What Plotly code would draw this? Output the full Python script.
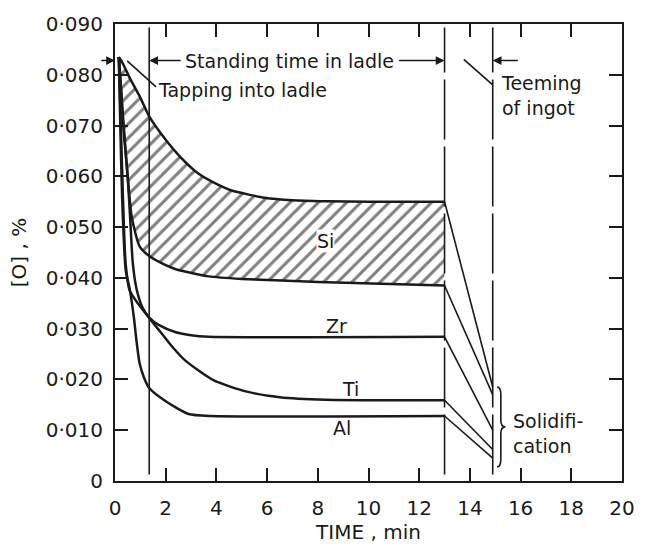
import plotly.graph_objects as go

# ---------------- data ----------------
# time axis ticks
x_ticks = [0, 2, 4, 6, 8, 10, 12, 14, 16, 18, 20]
y_ticks = [0, 0.01, 0.02, 0.03, 0.04, 0.05, 0.06, 0.07, 0.08, 0.09]
y_tick_text = ["0", "0·010", "0·020", "0·030", "0·040", "0·050", "0·060", "0·070", "0·080", "0·090"]

# event times (min): end of tapping, end of standing, end of teeming
t_tap_end = 1.35
t_stand_end = 13.0
t_teem_end = 14.9

# Si band (upper and lower bound) during tapping + standing in ladle
si_up_t = [0.15, 0.3, 0.58, 1.0, 1.35, 2.0, 2.6, 3.3, 4.0, 4.6, 5.9, 7.0, 8.3, 10.0, 13.0]
si_up_o = [0.0835, 0.0823, 0.0794, 0.0755, 0.0718, 0.0672, 0.0637, 0.0605, 0.0585, 0.0572, 0.0558, 0.0553, 0.0551, 0.0550, 0.0550]
si_lo_t = [0.15, 0.25, 0.35, 0.5, 0.66, 0.97, 1.35, 2.0, 2.4, 3.7, 5.0, 8.0, 13.0]
si_lo_o = [0.0835, 0.0765, 0.0685, 0.0600, 0.0520, 0.0462, 0.0443, 0.0425, 0.0417, 0.0403, 0.0398, 0.0392, 0.0385]

zr_t = [0.15, 0.3, 0.5, 0.6, 0.7, 0.85, 1.08, 1.35, 1.74, 2.4, 3.0, 3.7, 13.0]
zr_o = [0.0835, 0.0725, 0.0600, 0.0515, 0.0430, 0.0378, 0.0342, 0.0322, 0.0307, 0.0293, 0.0287, 0.0284, 0.0284]

ti_t = [0.15, 0.22, 0.3, 0.42, 0.58, 0.9, 1.35, 1.85, 2.3, 2.8, 3.9, 5.2, 6.5, 8.3, 13.0]
ti_o = [0.0835, 0.0720, 0.0580, 0.0428, 0.0375, 0.0350, 0.0321, 0.0290, 0.0262, 0.0236, 0.0198, 0.0176, 0.0165, 0.0160, 0.0159]

al_t = [0.15, 0.2, 0.28, 0.42, 0.58, 0.75, 0.85, 0.97, 1.15, 1.35, 2.0, 2.9, 3.8, 13.0]
al_o = [0.0835, 0.0720, 0.0560, 0.0416, 0.0378, 0.0320, 0.0275, 0.0232, 0.0203, 0.0183, 0.0157, 0.0132, 0.0128, 0.0128]

# oxygen at end of teeming (after solidification)
end_o = {"si_up": 0.0185, "si_lo": 0.0170, "zr": 0.0100, "ti": 0.0062, "al": 0.0045}

# label positions for the elements
labels = ["Si", "Zr", "Ti", "Al"]
label_t = [8.3, 8.75, 9.3, 8.95]
label_o = [0.0473, 0.0306, 0.0181, 0.0104]

FONT = "DejaVu Sans"
INK = "#1a1a1a"
FS = 19

fig = go.Figure()

# hatched Si band (only over the ladle period)
fig.add_trace(go.Scatter(x=si_lo_t, y=si_lo_o, mode="lines",
                         line=dict(width=0, shape="spline", smoothing=0.6),
                         showlegend=False, hoverinfo="skip"))
fig.add_trace(go.Scatter(x=si_up_t, y=si_up_o, mode="lines",
                         line=dict(width=0, shape="spline", smoothing=0.6),
                         fill="tonexty", fillcolor="white",
                         fillpattern=dict(shape="/", fgcolor="#000000", bgcolor="white",
                                          size=10, solidity=0.3),
                         showlegend=False, hoverinfo="skip"))

curves = [
    (si_up_t, si_up_o, end_o["si_up"]),
    (si_lo_t, si_lo_o, end_o["si_lo"]),
    (zr_t, zr_o, end_o["zr"]),
    (ti_t, ti_o, end_o["ti"]),
    (al_t, al_o, end_o["al"]),
]
for t, o, oend in curves:
    fig.add_trace(go.Scatter(x=t, y=o, mode="lines",
                             line=dict(color=INK, width=2.5, shape="spline", smoothing=0.6),
                             showlegend=False, hoverinfo="skip"))
    fig.add_trace(go.Scatter(x=[t[-1], t_teem_end], y=[o[-1], oend], mode="lines",
                             line=dict(color=INK, width=1.6),
                             showlegend=False, hoverinfo="skip"))

# vertical event lines
v_lo, v_hi = 0.0013, 0.0893
fig.add_trace(go.Scatter(x=[t_tap_end, t_tap_end], y=[v_lo, v_hi], mode="lines",
                         line=dict(color=INK, width=1.6), showlegend=False, hoverinfo="skip"))
for tv in (t_stand_end, t_teem_end):
    fig.add_trace(go.Scatter(x=[tv, tv], y=[v_lo, v_hi], mode="lines",
                             line=dict(color=INK, width=1.6, dash="60px,7px"),
                             showlegend=False, hoverinfo="skip"))

ann = []
arrow_y = 0.0828
def arrow(tip_x, tail_x, y=arrow_y, head=2):
    ann.append(dict(x=tip_x, y=y, ax=tail_x, ay=y, xref="x", yref="y", axref="x", ayref="y",
                    text="", showarrow=True, arrowhead=head, arrowsize=1.1, arrowwidth=1.6,
                    arrowcolor=INK))

arrow(0.0, -0.6)
arrow(t_tap_end, 2.65)
arrow(t_stand_end, 11.15)
arrow(t_teem_end, 15.95)
# leader lines (no head)
arrow(1.62, 0.42, head=0)
ann[-1].update(y=0.0776, ay=0.0830)
arrow(t_teem_end, 13.7, head=0)
ann[-1].update(y=0.0780, ay=0.0833)

def text(x, y, s, xanchor="left", bg=None):
    d = dict(x=x, y=y, xref="x", yref="y", text=s, showarrow=False, xanchor=xanchor,
             yanchor="middle", font=dict(family=FONT, size=FS, color=INK), align="left")
    if bg:
        d.update(bgcolor=bg, borderpad=0)
    ann.append(d)

text(6.9, arrow_y, "Standing time in ladle", xanchor="center")
text(1.62, 0.0770, "Tapping into ladle")
text(15.15, 0.0760, "Teeming<br>of ingot")
text(15.62, 0.0094, "Solidifi-<br>cation")
for s, lx, ly in zip(labels, label_t, label_o):
    text(lx, ly, s, xanchor="center", bg="white" if s == "Si" else None)

fig.update_layout(annotations=ann)

# brace for solidification
b_top = max(end_o.values())
b_bot = min(end_o.values()) - 0.0017
b_mid = (b_top + b_bot) / 2
x0, x1, x2 = 15.07, 15.22, 15.40
path = (f"M {x0},{b_top} Q {x1},{b_top} {x1},{b_top-0.0015} L {x1},{b_mid+0.0013} "
        f"Q {x1},{b_mid} {x2},{b_mid} Q {x1},{b_mid} {x1},{b_mid-0.0013} "
        f"L {x1},{b_bot+0.0015} Q {x1},{b_bot} {x0},{b_bot}")
fig.add_shape(type="path", path=path, xref="x", yref="y", line=dict(color=INK, width=1.6))

axis_common = dict(showline=True, linewidth=2, linecolor=INK, mirror="ticks",
                   ticks="inside", ticklen=13, tickwidth=1.6, tickcolor=INK,
                   showgrid=False, zeroline=False,
                   tickfont=dict(family=FONT, size=20, color=INK))

fig.update_xaxes(range=[0, 20], tickvals=x_ticks, ticktext=[str(v) for v in x_ticks],
                 ticklabelstandoff=8,
                 title=dict(text="TIME , min", font=dict(family=FONT, size=20, color=INK), standoff=6),
                 **axis_common)
fig.update_yaxes(range=[0, 0.09], tickvals=y_ticks, ticktext=y_tick_text,
                 ticklabelstandoff=6,
                 title=dict(text="[O] , %", font=dict(family=FONT, size=20, color=INK), standoff=14),
                 **axis_common)

fig.update_layout(width=647, height=552, margin=dict(l=115, r=14, t=14, b=62),
                  paper_bgcolor="white", plot_bgcolor="white",
                  font=dict(family=FONT, color=INK))

fig.write_html("out.html")
